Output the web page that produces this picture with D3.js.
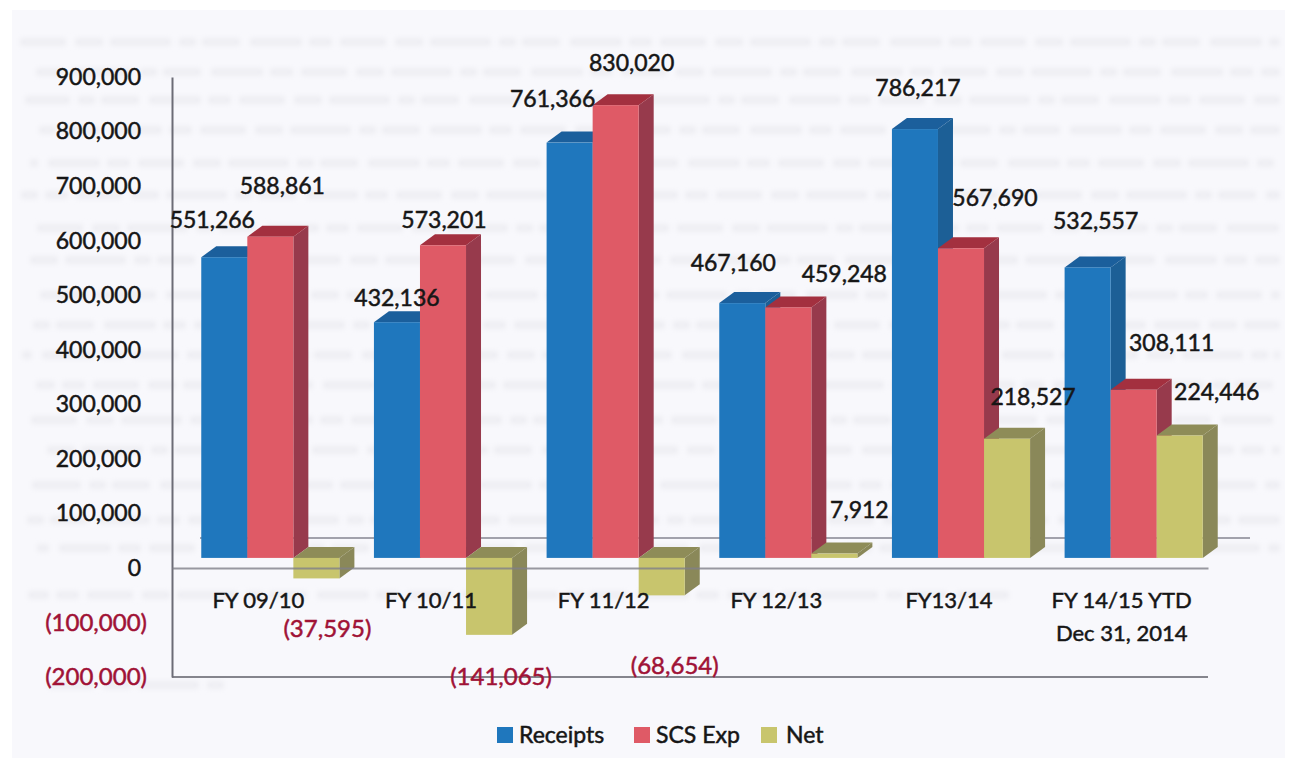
<!DOCTYPE html>
<html>
<head>
<meta charset="utf-8">
<script src="https://cdn.jsdelivr.net/npm/d3@7/dist/d3.min.js"></script>
<style>
html, body { margin: 0; background: #fff; }
svg { display: block; }
text { font-family: Lato, "Open Sans", sans-serif; font-weight: 400; fill: #161616; stroke: #161616; stroke-width: 0.5px; }
</style>
</head>
<body>
<div id="chart"></div>
<script>
var categories = ["FY 09/10", "FY 10/11", "FY 11/12", "FY 12/13", "FY13/14", "FY 14/15 YTD|Dec 31, 2014"];
var seriesNames = ["Receipts", "SCS Exp", "Net"];
var receipts = [551266, 432136, 761366, 467160, 786217, 532557];
var scsExp = [588861, 573201, 830020, 459248, 567690, 308111];
var net = [-37595, -141065, -68654, 7912, 218527, 224446];
var yTicks = [900000, 800000, 700000, 600000, 500000, 400000, 300000, 200000, 100000, 0, -100000, -200000];

// where each printed value sits, relative to the top of its bar (dx, dy)
var receiptsNudge = [[-12, -37], [0, -24], [-17, -44], [-9, -40], [3, -41], [8, -46]];
var scsNudge = [[12, -51], [1, -25], [16, -42], [56, -33], [34, -50], [38, -47]];
var netNudge = [[11, 71], [12, 119], [13, 108], [25, -44], [26, -42], [37, -44]];

// show-through of the page on the back of the scan
var ghostRows = [42, 72, 100, 130, 163, 195, 228, 260, 295, 325, 355, 385, 420, 450, 485, 520, 548, 595, 685];

var colors = {
	"Receipts": {front: "#1f77bd", top: "#1b5f9c", side: "#1c5f96"},
	"SCS Exp": {front: "#df5a66", top: "#a3303f", side: "#973a4c"},
	"Net": {front: "#c8c56d", top: "#8e8c58", side: "#8a8859"}
};
var negativeInk = "#a01236";

var width = 1297, height = 768;
var depth = {x: 15, y: 11};     // oblique depth of one bar
var floor = {x: 12, y: 10};     // bars stand this far behind the front edge of the floor
var wall = {x: 42, y: 30};

var svg = d3.select("#chart").append("svg")
	.attr("width", width)
	.attr("height", height);

var defs = svg.append("defs");
defs.append("filter").attr("id", "smear")
	.append("feGaussianBlur").attr("stdDeviation", 2.6);

svg.append("rect")
	.attr("x", 12).attr("y", 10)
	.attr("width", width - 24).attr("height", height - 20)
	.attr("fill", "#f8f8fc");

svg.append("g")
	.attr("filter", "url(#smear)")
	.selectAll("line")
	.data(ghostRows)
	.enter().append("line")
	.attr("x1", function(d, i) { return 20 + (i * 37) % 23; })
	.attr("x2", function(d) { return d > 650 ? 225 : d === 595 ? 1010 : 1280; })
	.attr("y1", function(d) { return d; })
	.attr("y2", function(d) { return d; })
	.attr("stroke", "#eeeef3")
	.attr("stroke-width", 8)
	.attr("stroke-dashoffset", function(d, i) { return i * 53; })
	.attr("stroke-dasharray", "46 9 28 7 61 8 17 6 38 10 52 7 23 8");

var x0 = d3.scaleBand().domain(categories).range([172, 1208]).paddingInner(0.2).paddingOuter(0.1);
var x1 = d3.scaleBand().domain(seriesNames).range([0, x0.bandwidth()]);
var y = d3.scaleLinear().domain([-200000, 900000]).range([677, 77]);

// back edge of the floor
svg.append("line")
	.attr("x1", 172 + wall.x - 14).attr("x2", 1208 + wall.x)
	.attr("y1", y(0) - wall.y).attr("y2", y(0) - wall.y)
	.attr("stroke", "#a2a2ac").attr("stroke-width", 2);

// bottom frame line
svg.append("line")
	.attr("x1", 172).attr("x2", 1208)
	.attr("y1", y(-200000)).attr("y2", y(-200000))
	.attr("stroke", "#85858d").attr("stroke-width", 2);

function barRows(name, values) {
	return values.map(function(v, i) {
		return {name: name, category: categories[i], value: v};
	});
}

var rows = barRows("Receipts", receipts).concat(barRows("SCS Exp", scsExp), barRows("Net", net));

var bars = svg.selectAll(".bar")
	.data(rows)
	.enter().append("g")
	.attr("class", "bar");

function box(d) {
	var left = x0(d.category) + x1(d.name) + floor.x;
	var base = y(0) - floor.y;
	var h = Math.abs(y(d.value) - y(0));
	var top = d.value >= 0 ? base - h : base;
	return {left: left, right: left + x1.bandwidth(), top: top, bottom: top + h};
}

bars.append("polygon")
	.attr("fill", function(d) { return colors[d.name].side; })
	.attr("points", function(d) {
		var b = box(d);
		return [[b.right, b.top], [b.right + depth.x, b.top - depth.y],
			[b.right + depth.x, b.bottom - depth.y], [b.right, b.bottom]].join(" ");
	});

bars.append("polygon")
	.attr("fill", function(d) { return colors[d.name].top; })
	.attr("points", function(d) {
		var b = box(d);
		return [[b.left, b.top], [b.left + depth.x, b.top - depth.y],
			[b.right + depth.x, b.top - depth.y], [b.right, b.top]].join(" ");
	});

bars.append("rect")
	.attr("fill", function(d) { return colors[d.name].front; })
	.attr("x", function(d) { return box(d).left; })
	.attr("y", function(d) { return box(d).top; })
	.attr("width", x1.bandwidth())
	.attr("height", function(d) { var b = box(d); return b.bottom - b.top; });

function money(v) {
	return v < 0 ? "(" + d3.format(",")(-v) + ")" : d3.format(",")(v);
}

function ink(text) {
	text.style("fill", function(d) { return d < 0 || d.value < 0 ? negativeInk : "#161616"; })
		.style("stroke", function(d) { return d < 0 || d.value < 0 ? negativeInk : "#161616"; });
}

// axes go over the bars, the zero line shows through the negative ones
var yAxis = d3.axisLeft(y)
	.tickValues(yTicks)
	.tickSize(0)
	.tickPadding(31)
	.tickFormat(money);

var gy = svg.append("g")
	.attr("transform", "translate(172,0)")
	.call(yAxis);
gy.select(".domain").attr("stroke", "#6c6c76").attr("stroke-width", 2);
gy.selectAll("text")
	.attr("font-size", function(d) { return d < 0 ? 24 : 23; })
	.attr("dx", function(d) { return d < 0 ? 6 : 0; })
	.call(ink);

var xAxis = d3.axisBottom(x0).tickSize(0).tickFormat("");
var gx = svg.append("g")
	.attr("transform", "translate(0," + y(0) + ")")
	.call(xAxis);
gx.select(".domain").attr("stroke", "#7f7f88").attr("stroke-opacity", 0.8).attr("stroke-width", 2);

gx.selectAll(".tick text").each(function(d) {
	var t = d3.select(this).attr("font-size", 22).attr("y", 40).attr("dy", null);
	d.split("|").forEach(function(line, i) {
		t.append("tspan").attr("x", 0).attr("dy", i ? 33 : 0).text(line);
	});
});

// printed values
function labelRows(values, name, nudge) {
	return values.map(function(v, i) {
		var b = box({name: name, category: categories[i], value: v});
		return {
			value: v,
			x: (b.left + b.right) / 2 + nudge[i][0],
			y: b.top + nudge[i][1]
		};
	});
}

var labels = labelRows(receipts, "Receipts", receiptsNudge)
	.concat(labelRows(scsExp, "SCS Exp", scsNudge), labelRows(net, "Net", netNudge));

svg.selectAll(".value")
	.data(labels)
	.enter().append("text")
	.attr("class", "value")
	.attr("x", function(d) { return d.x; })
	.attr("y", function(d) { return d.y; })
	.attr("dy", "0.35em")
	.attr("text-anchor", "middle")
	.attr("font-size", function(d) { return d.value < 0 ? 24 : 23; })
	.call(ink)
	.text(function(d) { return money(d.value); });

// legend
var legendLeft = d3.scaleOrdinal().domain(seriesNames).range([497, 634, 761]);
var legend = svg.selectAll(".legend")
	.data(seriesNames)
	.enter().append("g")
	.attr("class", "legend")
	.attr("transform", function(d) { return "translate(" + legendLeft(d) + ",735)"; });

legend.append("rect")
	.attr("y", -8).attr("width", 16).attr("height", 16)
	.attr("fill", function(d) { return colors[d].front; });

legend.append("text")
	.attr("x", function(d) { return d === "Net" ? 25 : 22; })
	.attr("dy", "0.35em")
	.attr("font-size", 23)
	.text(function(d) { return d; });
</script>
</body>
</html>
